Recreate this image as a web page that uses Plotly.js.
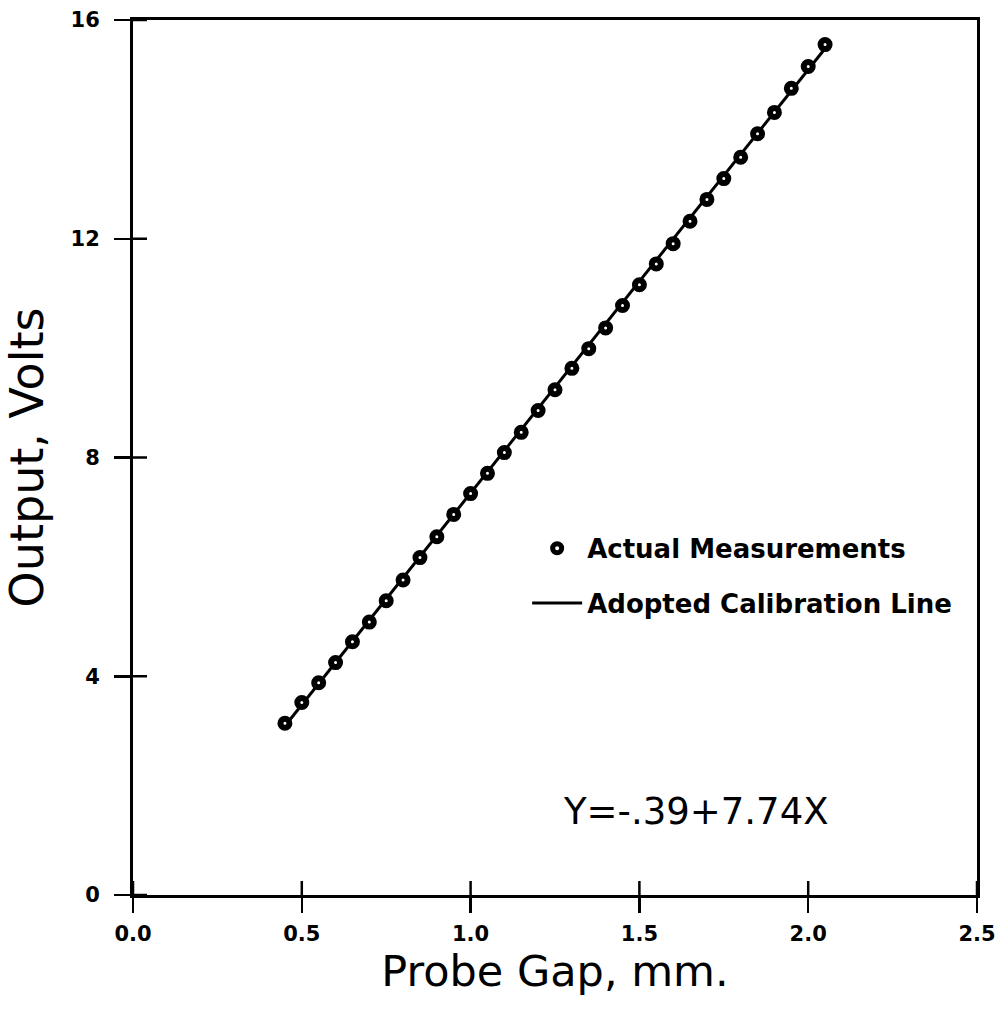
<!DOCTYPE html>
<html>
<head>
<meta charset="utf-8">
<script src="https://cdn.plot.ly/plotly-3.0.1.min.js"></script>
<style>html,body{margin:0;padding:0;background:#fff;}</style>
</head>
<body>
<div id="chart" style="width:1004px;height:1012px;"></div>
<script>
// Data
const gapMM = [0.45, 0.50, 0.55, 0.60, 0.65, 0.70, 0.75, 0.80, 0.85, 0.90, 0.95,
               1.00, 1.05, 1.10, 1.15, 1.20, 1.25, 1.30, 1.35, 1.40, 1.45, 1.50,
               1.55, 1.60, 1.65, 1.70, 1.75, 1.80, 1.85, 1.90, 1.95, 2.00, 2.05];
const outputVolts = [3.14, 3.52, 3.88, 4.25, 4.63, 4.99, 5.38, 5.76, 6.17, 6.55, 6.96,
                     7.34, 7.71, 8.09, 8.46, 8.86, 9.24, 9.63, 9.99, 10.37, 10.78, 11.16,
                     11.54, 11.91, 12.32, 12.72, 13.10, 13.49, 13.92, 14.31, 14.75, 15.15, 15.55];
const fitX = [0.45, 2.05];
const fitY = [3.09, 15.48];
const xTickVals = [0, 0.5, 1.0, 1.5, 2.0, 2.5];
const xTickText = ["0.0", "0.5", "1.0", "1.5", "2.0", "2.5"];
const yTickVals = [0, 4, 8, 12, 16];
const yTickText = ["0", "4", "8", "12", "16"];
const equationText = "Y=-.39+7.74X";
const equationPos = [1.668, 1.53];

const tickFont = {family: "DejaVu Sans", size: 21, color: "#000", weight: "bold"};

const traces = [
  {
    x: fitX, y: fitY, type: "scatter", mode: "lines",
    name: "Adopted Calibration Line",
    line: {color: "#000", width: 3},
    legendgroup: "b", legendrank: 2
  },
  {
    x: gapMM, y: outputVolts, type: "scatter", mode: "markers",
    name: "Actual Measurements",
    marker: {symbol: "circle", size: 9, color: "#fff", line: {color: "#000", width: 6}},
    legendgroup: "a", legendrank: 1
  }
];

// inner half of the crossing tick marks, positioned through the axes' own scales
const innerTickX = 0.0166; // fraction of plot width (~14 px)
const innerTickY = 0.016;  // fraction of plot height (~14 px)
const tickShapes = [];
xTickVals.forEach(v => tickShapes.push({
  type: "line", xref: "x", yref: "paper", x0: v, x1: v, y0: 0, y1: innerTickY,
  layer: "above", line: {color: "#000", width: 2.5}
}));
yTickVals.forEach(v => tickShapes.push({
  type: "line", xref: "paper", yref: "y", y0: v, y1: v, x0: 0, x1: innerTickX,
  layer: "above", line: {color: "#000", width: 2.5}
}));

const layout = {
  width: 1004, height: 1012,
  paper_bgcolor: "#fff", plot_bgcolor: "#fff",
  margin: {l: 133, r: 27, t: 20, b: 117},
  showlegend: true,
  legend: {
    x: 0.467, xanchor: "left", y: 0.423, yanchor: "top",
    bgcolor: "rgba(0,0,0,0)", borderwidth: 0,
    font: {family: "DejaVu Sans", size: 26, color: "#000", weight: "bold"},
    traceorder: "grouped", tracegroupgap: 18, itemwidth: 50
  },
  xaxis: {
    range: [0, 2.5], tickvals: xTickVals, ticktext: xTickText,
    ticks: "outside", ticklen: 15, tickwidth: 2.5, tickcolor: "#000",
    showline: true, linewidth: 3, linecolor: "#000", mirror: true,
    showgrid: false, zeroline: false, tickfont: tickFont,
    ticklabelstandoff: 3,
    title: {text: "Probe Gap, mm.", font: {family: "DejaVu Sans", size: 43, color: "#000"}, standoff: 0}
  },
  yaxis: {
    range: [0, 16], tickvals: yTickVals, ticktext: yTickText,
    ticks: "outside", ticklen: 16, tickwidth: 2.5, tickcolor: "#000",
    showline: true, linewidth: 3, linecolor: "#000", mirror: true,
    showgrid: false, zeroline: false, tickfont: tickFont,
    ticklabelstandoff: 10,
    title: {text: "Output, Volts", font: {family: "DejaVu Sans", size: 46, color: "#000"}, standoff: 23}
  },
  shapes: tickShapes,
  annotations: [
    {x: equationPos[0], y: equationPos[1], xref: "x", yref: "y", text: equationText,
     showarrow: false, font: {family: "DejaVu Sans", size: 37, color: "#000"}}
  ]
};

Plotly.newPlot("chart", traces, layout, {displayModeBar: false, staticPlot: true});
</script>
</body>
</html>
